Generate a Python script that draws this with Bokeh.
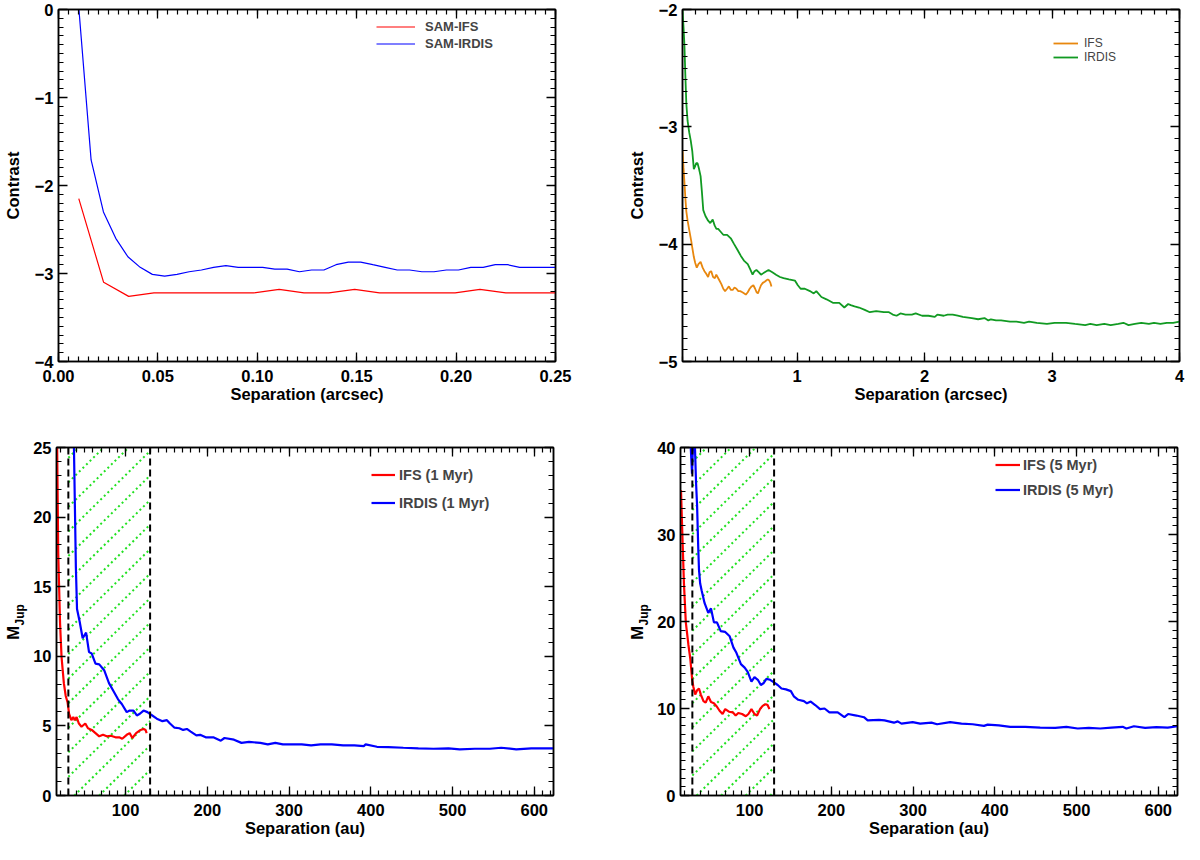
import numpy as np
from bokeh.plotting import figure
from bokeh.layouts import column, row
from bokeh.models import LinearAxis, FixedTicker, Legend, LegendItem, Span
from bokeh.embed import file_html
from bokeh.resources import INLINE

FONT = "Liberation Sans"
FW = 497
HATCH = "#22e022"
NBSP = "\u00a0"

# ---------------- data ----------------
# top left: SAM contrast (arcsec, log contrast)
sam_irdis_x = [0.0101, 0.0164, 0.0226, 0.0288, 0.0349, 0.0411, 0.0472, 0.0534, 0.0596, 0.0657,
               0.0719, 0.0780, 0.0842, 0.0904, 0.0965, 0.1027, 0.1088, 0.1150, 0.1212, 0.1273,
               0.1335, 0.1396, 0.1458, 0.1520, 0.1581, 0.1643, 0.1704, 0.1766, 0.1828, 0.1889,
               0.1951, 0.2012, 0.2074, 0.2136, 0.2197, 0.2259, 0.2320, 0.2382, 0.2444, 0.2500]
sam_irdis_y = [0.05, -1.71, -2.30, -2.60, -2.81, -2.93, -3.01, -3.03, -3.01, -2.98,
               -2.96, -2.93, -2.91, -2.93, -2.93, -2.93, -2.95, -2.95, -2.98, -2.96,
               -2.96, -2.90, -2.87, -2.87, -2.90, -2.93, -2.96, -2.96, -2.98, -2.98,
               -2.96, -2.96, -2.93, -2.93, -2.90, -2.90, -2.93, -2.93, -2.93, -2.93]
sam_ifs_x = [0.0102, 0.0227, 0.0353, 0.0480, 0.0605, 0.0730, 0.0856, 0.0981, 0.1110, 0.1235,
             0.1360, 0.1490, 0.1615, 0.1740, 0.1870, 0.1995, 0.2120, 0.2250, 0.2375, 0.2500]
sam_ifs_y = [-2.15, -3.10, -3.26, -3.22, -3.22, -3.22, -3.22, -3.22, -3.18, -3.22,
             -3.22, -3.18, -3.22, -3.22, -3.22, -3.22, -3.18, -3.22, -3.22, -3.22]

# top right: coronagraphic contrast
irdis_x = [0.100, 0.108, 0.115, 0.122, 0.130, 0.140, 0.153, 0.165, 0.177, 0.189, 0.198, 0.207,
           0.218, 0.230, 0.242, 0.252, 0.263, 0.280, 0.301, 0.318, 0.337, 0.352, 0.366, 0.380,
           0.396, 0.420, 0.450, 0.479, 0.505, 0.532, 0.558, 0.582, 0.612, 0.630, 0.650, 0.665,
           0.680, 0.700, 0.716, 0.745, 0.775, 0.805, 0.834, 0.865, 0.893, 0.935, 0.982, 1.005,
           1.027, 1.060, 1.100, 1.130, 1.150, 1.190, 1.230, 1.280, 1.330, 1.370, 1.400, 1.420,
           1.450, 1.485, 1.530, 1.570, 1.620, 1.680, 1.720, 1.750, 1.780, 1.810, 1.850, 1.900,
           1.930, 1.980, 2.030, 2.080, 2.100, 2.150, 2.180, 2.220, 2.260, 2.300, 2.370, 2.420,
           2.470, 2.500, 2.520, 2.560, 2.600, 2.670, 2.720, 2.780, 2.820, 2.880, 2.960, 3.020,
           3.060, 3.110, 3.180, 3.260, 3.300, 3.350, 3.410, 3.460, 3.520, 3.560, 3.600, 3.650,
           3.700, 3.760, 3.800, 3.850, 3.900, 3.950, 4.000]
irdis_y = [-2.00, -2.15, -2.30, -2.55, -2.80, -2.95, -3.05, -3.12, -3.21, -3.36, -3.34, -3.31,
           -3.31, -3.36, -3.42, -3.55, -3.71, -3.76, -3.80, -3.82, -3.79, -3.84, -3.87, -3.87,
           -3.89, -3.92, -3.92, -3.95, -4.00, -4.05, -4.10, -4.14, -4.17, -4.21, -4.26, -4.23,
           -4.22, -4.24, -4.26, -4.24, -4.22, -4.24, -4.26, -4.28, -4.29, -4.30, -4.31, -4.35,
           -4.38, -4.38, -4.40, -4.42, -4.40, -4.45, -4.47, -4.50, -4.50, -4.54, -4.51, -4.52,
           -4.53, -4.54, -4.56, -4.58, -4.57, -4.58, -4.58, -4.60, -4.61, -4.59, -4.60, -4.60,
           -4.59, -4.61, -4.61, -4.62, -4.60, -4.61, -4.60, -4.60, -4.61, -4.62, -4.63, -4.64,
           -4.63, -4.65, -4.64, -4.65, -4.65, -4.66, -4.66, -4.67, -4.66, -4.67, -4.68, -4.67,
           -4.67, -4.67, -4.68, -4.69, -4.68, -4.69, -4.68, -4.69, -4.68, -4.67, -4.69, -4.68,
           -4.67, -4.68, -4.67, -4.68, -4.67, -4.67, -4.66]
ifs_x = [0.100, 0.108, 0.115, 0.122, 0.130, 0.140, 0.153, 0.168, 0.180, 0.189, 0.200, 0.212,
         0.225, 0.242, 0.258, 0.272, 0.285, 0.301, 0.312, 0.325, 0.340, 0.354, 0.365, 0.375,
         0.390, 0.405, 0.420, 0.434, 0.450, 0.464, 0.480, 0.494, 0.508, 0.523, 0.538, 0.553,
         0.570, 0.585, 0.597, 0.612, 0.627, 0.642, 0.656, 0.670, 0.682, 0.692, 0.705, 0.716,
         0.730, 0.745, 0.757, 0.769, 0.781, 0.790, 0.798]
ifs_y = [-3.20, -3.35, -3.47, -3.60, -3.72, -3.80, -3.88, -3.97, -4.05, -4.11, -4.16, -4.20,
         -4.17, -4.15, -4.20, -4.23, -4.25, -4.28, -4.24, -4.23, -4.28, -4.29, -4.26, -4.28,
         -4.31, -4.34, -4.38, -4.40, -4.38, -4.36, -4.39, -4.39, -4.37, -4.38, -4.40, -4.40,
         -4.41, -4.42, -4.43, -4.41, -4.38, -4.36, -4.35, -4.38, -4.41, -4.42, -4.38, -4.35,
         -4.33, -4.32, -4.31, -4.30, -4.31, -4.33, -4.36]

# bottom left: mass limits, 1 Myr (au, MJup)
irdis1_x = [36.3, 39.2, 40.6, 43.8, 47.5, 51.7, 55.3, 58.6, 63.2, 67.8, 73.8, 79.7, 85.3, 90.8,
            95.4, 101.4, 105.0, 109.7, 113.8, 117.5, 122.0, 126.7, 131.3, 138.2, 145.1, 150.6,
            154.3, 159.9, 165.8, 170.4, 175.0, 179.7, 186.6, 191.2, 198.0, 207.3, 216.5, 221.0,
            232.6, 241.8, 251.0, 264.8, 274.0, 283.2, 292.4, 301.7, 315.5, 327.0, 338.5, 352.3,
            366.1, 380.0, 391.4, 393.7, 407.5, 421.4, 439.8, 458.2, 476.6, 495.0, 508.8, 527.3,
            545.7, 559.5, 577.9, 596.3, 614.7, 623.5]
irdis1_y = [27.0, 16.4, 13.4, 12.5, 11.3, 11.7, 10.3, 10.2, 9.47, 9.42, 9.0, 8.07, 7.49, 6.91,
            6.57, 5.99, 6.10, 6.10, 5.75, 5.87, 6.10, 5.99, 5.80, 5.52, 5.34, 5.41,
            5.17, 4.87, 4.83, 4.71, 4.78, 4.59, 4.32, 4.36, 4.18, 4.18, 3.94, 4.13,
            4.01, 3.78, 3.85, 3.78, 3.67, 3.78, 3.67, 3.67, 3.67, 3.60, 3.67, 3.67,
            3.60, 3.60, 3.55, 3.67, 3.50, 3.48, 3.43, 3.39, 3.36, 3.39, 3.32, 3.36,
            3.36, 3.43, 3.32, 3.39, 3.39, 3.39]
ifs1_x = [15.8, 17.6, 19.9, 21.7, 24.5, 26.8, 29.1, 30.9, 33.7, 36.0, 37.8, 40.1, 42.9, 46.1,
          50.7, 54.0, 58.6, 63.2, 67.8, 72.4, 77.0, 82.0, 87.6, 92.2, 95.9, 101.4, 105.0,
          108.3, 112.9, 118.4, 122.1, 124.4, 125.8]
ifs1_y = [28.0, 17.4, 12.3, 9.93, 8.07, 7.15, 6.68, 5.87, 5.41, 5.64, 5.41, 5.64, 5.17, 4.94,
          5.17, 4.83, 4.71, 4.48, 4.25, 4.36, 4.25, 4.29, 4.18, 4.18, 4.08, 4.36, 4.48,
          4.13, 4.48, 4.71, 4.78, 4.71, 4.48]

# bottom right: mass limits, 5 Myr
irdis5_x = [27.0, 29.6, 31.2, 33.0, 34.5, 35.8, 37.2, 38.1, 39.5, 41.3, 45.0, 49.5, 52.8, 56.4,
            60.1, 64.7, 70.2, 75.7, 80.3, 83.9, 89.4, 94.0, 97.7, 102.3, 106.0, 110.1, 113.8,
            117.0, 120.6, 125.2, 129.8, 134.4, 139.0, 144.5, 150.5, 154.1, 159.6, 166.5, 170.2,
            174.8, 180.3, 186.2, 191.7, 197.7, 207.8, 216.0, 220.6, 230.7, 239.9, 244.5, 258.3,
            265.1, 276.6, 281.2, 285.8, 299.5, 308.7, 322.5, 329.4, 345.4, 359.2, 372.9, 386.7,
            391.3, 405.0, 418.8, 437.2, 455.5, 473.9, 487.6, 501.4, 515.1, 528.9, 542.7, 556.4,
            561.0, 570.2, 583.9, 597.7, 611.5, 623.5]
irdis5_y = [42.0, 37.0, 41.5, 40.6, 36.0, 33.3, 28.5, 26.0, 24.4, 23.6, 22.1, 21.0, 21.5, 19.9,
            19.9, 18.9, 18.8, 18.3, 17.0, 16.4, 15.1, 14.7, 14.2, 13.1, 13.6, 13.3, 12.7,
            12.9, 13.4, 13.3, 13.0, 12.7, 12.3, 12.2, 12.0, 11.4, 11.0, 10.85, 10.6,
            10.8, 10.4, 9.93, 10.0, 9.56, 9.56, 9.0, 9.37, 9.19, 9.0, 8.63, 8.70,
            8.63, 8.37, 8.52, 8.26, 8.44, 8.26, 8.37, 8.19, 8.44, 8.26, 8.19, 8.00,
            8.15, 8.07, 7.89, 7.89, 7.81, 7.78, 7.89, 7.70, 7.78, 7.70, 7.81, 7.89,
            7.70, 7.96, 7.78, 7.85, 7.81, 7.96]
ifs5_x = [16.1, 17.9, 19.7, 22.0, 25.2, 27.5, 29.8, 31.2, 33.5, 35.8, 38.1, 40.4, 43.6, 46.3,
          49.5, 52.8, 56.4, 60.1, 63.3, 67.0, 70.2, 74.8, 79.4, 83.0, 86.2, 90.8, 95.4, 98.6,
          102.3, 106.0, 109.2, 112.8, 116.0, 119.7, 122.0, 124.3]
ifs5_y = [35.1, 29.6, 24.4, 19.9, 17.3, 15.7, 13.3, 12.5, 11.6, 12.1, 12.3, 11.6, 10.85, 10.67,
          11.4, 10.74, 10.6, 10.2, 9.74, 9.37, 9.93, 9.63, 9.56, 9.19, 9.48, 9.37, 9.11, 9.37,
          9.93, 9.37, 9.19, 9.93, 10.3, 10.5, 10.4, 9.93]

band_au = [30, 130]

# ---------------- ticks ----------------
t1_x = [0.0, 0.05, 0.10, 0.15, 0.20, 0.25]
t1_xl = ["0.00", "0.05", "0.10", "0.15", "0.20", "0.25"]
t1_y = [-4, -3, -2, -1, 0]
t1_yl = ["\u22124", "\u22123", "\u22122", "\u22121", "0"]
t2_x = [1, 2, 3, 4]
t2_xl = ["1", "2", "3", "4"]
t2_y = [-5, -4, -3, -2]
t2_yl = ["\u22125", "\u22124", "\u22123", "\u22122"]
t_au = [100, 200, 300, 400, 500, 600]
t_aul = ["100", "200", "300", "400", "500", "600"]
t3_y = [0, 5, 10, 15, 20, 25]
t3_yl = ["0", "5", "10", "15", "20", "25"]
t4_y = [0, 10, 20, 30, 40]
t4_yl = ["0", "10", "20", "30", "40"]


def style_axis(ax, labels, standoff):
    ax.major_tick_in = 9
    ax.major_tick_out = 0
    ax.minor_tick_in = 5
    ax.minor_tick_out = 0
    ax.axis_line_color = "black"
    ax.axis_line_width = 1.5
    ax.major_tick_line_color = "black"
    ax.minor_tick_line_color = "black"
    ax.major_tick_line_width = 1.3
    ax.minor_tick_line_width = 1.2
    ax.major_label_text_font = FONT
    ax.major_label_text_font_style = "bold"
    ax.axis_label_text_font = FONT
    ax.axis_label_text_font_size = "16.5px"
    ax.axis_label_text_font_style = "bold"
    ax.axis_label_text_color = "black"
    if labels:
        ax.major_label_text_color = "black"
        ax.major_label_text_font_size = "16.5px"
        ax.major_label_standoff = standoff
    else:
        # tick marks only: labels are not painted at all
        ax.major_label_text_color = None
        ax.major_label_text_font_size = "1px"
        ax.major_label_standoff = 0


def panel(xr, yr, xt, xtl, xminor, yt, ytl, yminor, xlabel, ylabel,
          left, right, top, bottom, fh, ystand=8):
    p = figure(frame_width=FW, frame_height=fh, x_range=xr, y_range=yr,
               min_border_left=left, min_border_right=right,
               min_border_top=top, min_border_bottom=bottom,
               toolbar_location=None, tools="", output_backend="svg")
    p.grid.visible = False
    p.outline_line_color = "black"
    p.outline_line_width = 1.5
    p.background_fill_color = "white"
    p.border_fill_color = "white"

    xtick = FixedTicker(ticks=xt, minor_ticks=list(xminor))
    ytick = FixedTicker(ticks=yt, minor_ticks=list(yminor))
    p.xaxis.ticker = xtick
    p.yaxis.ticker = ytick
    p.xaxis.major_label_overrides = dict(zip(xt, xtl))
    p.yaxis.major_label_overrides = dict(zip(yt, ytl))
    p.xaxis.axis_label = xlabel
    p.xaxis.axis_label_standoff = 0
    if ylabel:
        p.yaxis.axis_label = ylabel
        p.yaxis.axis_label_standoff = ystand
    style_axis(p.xaxis[0], True, 8)
    style_axis(p.yaxis[0], True, 5)

    ax_top = LinearAxis(ticker=xtick)
    style_axis(ax_top, False, 0)
    p.add_layout(ax_top, "above")
    ax_right = LinearAxis(ticker=ytick)
    style_axis(ax_right, False, 0)
    p.add_layout(ax_right, "right")
    return p


def legend(p, items, loc, gw, stand, fsize, lh, spacing, style="bold"):
    lg = Legend(items=[LegendItem(label=t, renderers=[r]) for t, r in items],
                location=loc, glyph_width=gw, glyph_height=lh, label_height=lh,
                label_standoff=stand, spacing=spacing, padding=0, margin=0,
                border_line_color=None, background_fill_alpha=0,
                label_text_font=FONT, label_text_font_size=fsize,
                label_text_font_style=style)
    p.add_layout(lg)


def hatch(p, lo, hi, ytop, slope, step, phase):
    k = np.ceil((ytop / slope + phase - lo) / step)
    x0 = np.arange(phase - k * step, hi, step)
    xa = np.maximum(lo, x0)
    xb = np.minimum(hi, x0 + ytop / slope)
    keep = xa < xb
    xa, xb, x0 = xa[keep], xb[keep], x0[keep]
    p.segment(xa, slope * (xa - x0), xb, slope * (xb - x0),
              line_color=HATCH, line_width=2, line_dash="2 3")
    for xv in band_au:
        p.add_layout(Span(location=xv, dimension="height", line_color="black",
                          line_width=2, line_dash="7 4"))


def mjup(p):
    # M with subscript Jup: "Jup" is the label of the tick-label axis,
    # "M" sits on an extra bare axis outside it, pulled back over it
    p.yaxis[0].axis_label = NBSP * 4 + "Jup"
    p.yaxis[0].axis_label_text_font_size = "12px"
    p.yaxis[0].axis_label_standoff = 3
    outer = LinearAxis(ticker=FixedTicker(ticks=[]), axis_label="M" + NBSP * 5)
    style_axis(outer, False, 0)
    outer.axis_line_color = None
    outer.major_tick_in = 0
    outer.minor_tick_in = 0
    outer.axis_label_standoff = -11
    p.add_layout(outer, "left")


# top left
p1 = panel((0.0, 0.25), (-4.0, 0.0), t1_x, t1_xl, np.arange(0.0, 0.2501, 0.005),
           t1_y, t1_yl, np.arange(-4.0, 0.001, 0.1), "Separation (arcsec)", "Contrast",
           54, 19, 9, 58, 352, ystand=10)
r_a = p1.line(sam_ifs_x, sam_ifs_y, line_color="#ff0000", line_width=1.2)
r_b = p1.line(sam_irdis_x, sam_irdis_y, line_color="#0000ff", line_width=1.2)
legend(p1, [("SAM-IFS", r_a), ("SAM-IRDIS", r_b)], (318, 310), 39, 10, "13px", 15, 2)

# top right
p2 = panel((0.1, 4.0), (-5.0, -2.0), t2_x, t2_xl, np.arange(0.1, 4.001, 0.1),
           t2_y, t2_yl, np.arange(-5.0, -1.999, 0.1), "Separation (arcsec)", "Contrast",
           108, 7, 9, 58, 352, ystand=10)
r_c = p2.line(ifs_x, ifs_y, line_color="#e8870e", line_width=1.8)
r_d = p2.line(irdis_x, irdis_y, line_color="#119a22", line_width=1.8)
legend(p2, [("IFS", r_c), ("IRDIS", r_d)], (371, 297), 25, 6, "12px", 12, -2, style="normal")

# bottom left
p3 = panel((15.5, 623.5), (0, 25), t_au, t_aul, np.arange(20, 621, 10),
           t3_y, t3_yl, np.arange(0, 25.1, 1), "Separation (au)", None, 54, 19, 28, 48, 348)
hatch(p3, band_au[0], band_au[1], 25, 0.0578, 30.5, 37.3)
r_e = p3.line(ifs1_x, ifs1_y, line_color="#ff0000", line_width=2.2)
r_f = p3.line(irdis1_x, irdis1_y, line_color="#0000ff", line_width=2.2)
legend(p3, [("IFS (1 Myr)", r_e), ("IRDIS (1 Myr)", r_f)], (315, 284), 24, 4, "14.5px", 17, 11)
mjup(p3)

# bottom right
p4 = panel((15.5, 623.5), (0, 40), t_au, t_aul, np.arange(20, 621, 10),
           t4_y, t4_yl, np.arange(0, 40.1, 1), "Separation (au)", None, 108, 7, 28, 48, 348)
hatch(p4, band_au[0], band_au[1], 40, 0.0925, 30.0, 35.2)
r_g = p4.line(ifs5_x, ifs5_y, line_color="#ff0000", line_width=2.2)
r_h = p4.line(irdis5_x, irdis5_y, line_color="#0000ff", line_width=2.2)
legend(p4, [("IFS (5 Myr)", r_g), ("IRDIS (5 Myr)", r_h)], (315, 297), 25, 3, "14.5px", 17, 8)
mjup(p4)

layout = column(row(p1, p2), row(p3, p4))
open("out.html", "w").write(file_html(layout, INLINE))
